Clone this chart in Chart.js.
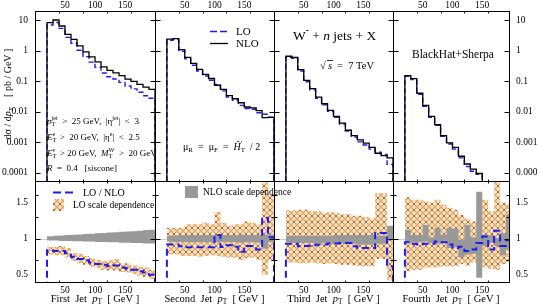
<!DOCTYPE html>
<html>
<head>
<meta charset="utf-8">
<script src="https://cdn.jsdelivr.net/npm/chart.js@4.4.0/dist/chart.umd.min.js"></script>
<style>
html, body { margin: 0; padding: 0; background: #fff; }
#wrap { position: relative; width: 538px; height: 307px; }
#wrap canvas { position: absolute; left: 0; top: 0; }
</style>
</head>
<body>
<div id="wrap">
<canvas id="c1b" width="538" height="307"></canvas>
<canvas id="c2b" width="538" height="307"></canvas>
<canvas id="c3b" width="538" height="307"></canvas>
<canvas id="c4b" width="538" height="307"></canvas>
<canvas id="c1t" width="538" height="307"></canvas>
<canvas id="c2t" width="538" height="307"></canvas>
<canvas id="c3t" width="538" height="307"></canvas>
<canvas id="c4t" width="538" height="307"></canvas>
</div>
<script>
// bin edges (GeV), same for all four jets
const binEdges = [20, 30, 40, 50, 60, 70, 80, 90, 100, 110, 120, 130, 140, 150, 160, 170, 180, 190, 200];

// tick labels
const ptLabels = [50, 100, 150];
const logLabels = [10, 1, 0.1, 0.01, 0.001, 0.0001];
const ratioLabels = [0.5, 1, 1.5];

// dsigma/dpT [pb/GeV]
const nlo1 = [8.5, 10.4, 6.6, 3.5, 2.4, 1.47, 0.93, 0.64, 0.44, 0.30, 0.23, 0.19, 0.155, 0.12, 0.1, 0.08, 0.065, 0.055];
const lo1 = [7.1, 8.6, 5.5, 2.8, 1.8, 1.06, 0.65, 0.43, 0.29, 0.19, 0.143, 0.12, 0.093, 0.071, 0.057, 0.044, 0.034, 0.028];
const nlo2 = [2.45, 2.55, 1.1, 0.62, 0.39, 0.25, 0.17, 0.125, 0.075, 0.055, 0.034, 0.027, 0.02, 0.0145, 0.0135, 0.011, 0.0065, 0.0066];
const lo2 = [2.25, 2.35, 0.98, 0.55, 0.34, 0.22, 0.15, 0.11, 0.079, 0.049, 0.031, 0.024, 0.0164, 0.013, 0.0122, 0.0094, 0.0084, 0.0067];
const nlo3 = [0.67, 0.61, 0.245, 0.109, 0.058, 0.0305, 0.0185, 0.0112, 0.0071, 0.0043, 0.0025, 0.00167, 0.0012, 0.00094, 0.00069, 0.00044, 0.00037, 0.00031];
const lo3 = [0.62, 0.57, 0.219, 0.098, 0.053, 0.028, 0.017, 0.0105, 0.0066, 0.004, 0.00235, 0.0015, 0.00104, 0.00082, 0.0006, 0.00048, 0.0004, 0.00019];
const nlo4 = [0.155, 0.124, 0.041, 0.0163, 0.0071, 0.0038, 0.00166, 0.00096, 0.00069, 0.00035, 0.000195, 0.000133, 0.000095];
const lo4 = [0.147, 0.115, 0.038, 0.0152, 0.0066, 0.00365, 0.00158, 0.00088, 0.0006, 0.00031, 0.000162, 0.000113, 0.000089];

// LO / NLO
const ratio1 = [0.84, 0.83, 0.83, 0.80, 0.75, 0.72, 0.70, 0.67, 0.65, 0.64, 0.62, 0.63, 0.60, 0.59, 0.57, 0.55, 0.53, 0.50];
const ratio2 = [0.92, 0.92, 0.895, 0.88, 0.88, 0.88, 0.88, 0.88, 1.05, 0.885, 0.91, 0.89, 0.82, 0.9, 0.9, 0.85, 1.29, 1.02];
const ratio3 = [0.93, 0.93, 0.895, 0.9, 0.91, 0.92, 0.92, 0.935, 0.935, 0.94, 0.94, 0.895, 0.87, 0.87, 0.87, 1.08, 1.08, 0.62];
const ratio4 = [0.95, 0.93, 0.92, 0.93, 0.93, 0.96, 0.95, 0.92, 0.87, 0.89, 0.83, 0.85, 0.94, 1.03, 0.85, 1.11, 0.9, 0.98];

// LO scale dependence (ratio to NLO)
const loHi1 = [0.89, 0.89, 0.90, 0.87, 0.80, 0.79, 0.76, 0.73, 0.71, 0.69, 0.70, 0.72, 0.66, 0.66, 0.63, 0.61, 0.60, 0.57];
const loLo1 = [0.78, 0.77, 0.77, 0.74, 0.69, 0.66, 0.64, 0.61, 0.59, 0.57, 0.56, 0.56, 0.54, 0.53, 0.51, 0.49, 0.47, 0.44];
const loHi2 = [1.15, 1.15, 1.15, 1.2, 1.2, 1.2, 1.22, 1.2, 1.37, 1.22, 1.18, 1.2, 1.2, 1.24, 1.22, 1.2, 1.78, 1.6];
const loLo2 = [0.78, 0.78, 0.76, 0.76, 0.76, 0.75, 0.76, 0.77, 0.76, 0.75, 0.74, 0.74, 0.7, 0.73, 0.74, 0.71, 0.5, 0.7];
const loHi3 = [1.39, 1.39, 1.4, 1.4, 1.38, 1.38, 1.36, 1.37, 1.36, 1.34, 1.34, 1.32, 1.32, 1.3, 1.28, 1.63, 1.63, 1.1];
const loLo3 = [0.67, 0.67, 0.66, 0.66, 0.67, 0.66, 0.65, 0.66, 0.65, 0.64, 0.64, 0.63, 0.62, 0.62, 0.62, 0.72, 0.72, 0.42];
const loHi4 = [1.57, 1.54, 1.54, 1.52, 1.5, 1.54, 1.47, 1.43, 1.4, 1.33, 1.28, 1.24, 1.63, 1.54, 1.38, 1.79, 1.5, 1.48];
const loLo4 = [0.55, 0.57, 0.57, 0.6, 0.6, 0.6, 0.62, 0.62, 0.62, 0.65, 0.63, 0.67, 0.63, 0.6, 0.58, 0.57, 0.65, 0.68];

// NLO scale dependence (ratio to NLO)
const nloHi1 = [1.035, 1.04, 1.045, 1.05, 1.055, 1.06, 1.065, 1.07, 1.075, 1.08, 1.085, 1.09, 1.095, 1.10, 1.105, 1.11, 1.12, 1.125];
const nloLo1 = [0.975, 0.975, 0.97, 0.97, 0.965, 0.965, 0.96, 0.96, 0.955, 0.955, 0.95, 0.95, 0.945, 0.945, 0.94, 0.94, 0.935, 0.935];
const nloHi2 = [1.04, 1.045, 1.05, 1.05, 1.05, 1.05, 1.05, 1.05, 1.05, 1.05, 1.05, 1.05, 1.06, 1.05, 1.05, 1.055, 1.06, 1.06];
const nloLo2 = [0.96, 0.955, 0.955, 0.95, 0.95, 0.95, 0.95, 0.95, 0.95, 0.955, 0.95, 0.95, 0.945, 0.95, 0.95, 0.945, 0.86, 0.95];
const nloHi3 = [1.04, 1.04, 1.04, 1.04, 1.04, 1.04, 1.04, 1.04, 1.05, 1.05, 1.05, 1.05, 1.05, 1.05, 1.05, 1.04, 1.04, 1.18];
const nloLo3 = [0.95, 0.94, 0.94, 0.94, 0.94, 0.94, 0.94, 0.93, 0.93, 0.93, 0.93, 0.93, 0.92, 0.92, 0.92, 0.93, 0.93, 0.98];
const nloHi4 = [1.12, 1.05, 1.05, 1.19, 1.02, 1.15, 1.06, 1.15, 1.14, 0.99, 1.19, 1.02, 1.65, 1.06, 1.05, 1.01, 1.08, 1.33];
const nloLo4 = [0.94, 0.95, 0.95, 0.96, 0.94, 0.93, 0.95, 0.87, 0.89, 0.74, 0.78, 0.79, 0.46, 0.9, 0.94, 0.9, 0.77, 0.85];

const jetNames = ['First', 'Second', 'Third', 'Fourth'];

// layout
const W = 538, H = 307;
const cols = [[35, 155], [155, 274], [274, 393], [393, 509]];
const xMax = [200, 200, 200, 195];
const topRow = [11, 181], botRow = [181, 282];
const SERIF = '"Liberation Serif", "DejaVu Serif", serif';
const BLUE = '#1c1cf0';

// histogram outline: points on left bin edges, stepped
function histo(vals, floor) {
  const pts = [];
  if (floor !== undefined) pts.push({ x: binEdges[0], y: floor });
  vals.forEach((v, i) => pts.push({ x: binEdges[i], y: v }));
  pts.push({ x: binEdges[vals.length], y: vals[vals.length - 1] });
  if (floor !== undefined) pts.push({ x: binEdges[vals.length], y: floor });
  return pts;
}

// orange cross hatch
function makeHatch(ctx) {
  const c = document.createElement('canvas');
  c.width = 6; c.height = 6;
  const g = c.getContext('2d');
  g.fillStyle = '#fbe6cc';
  g.fillRect(0, 0, 6, 6);
  g.fillStyle = '#eaae6c';
  g.beginPath(); g.arc(3, 3, 1.8, 0, Math.PI * 2); g.fill();
  g.strokeStyle = '#b46a26';
  g.lineWidth = 1;
  g.beginPath();
  g.moveTo(0, 0); g.lineTo(1.6, 1.6); g.moveTo(6, 0); g.lineTo(4.4, 1.6);
  g.moveTo(0, 6); g.lineTo(1.6, 4.4); g.moveTo(6, 6); g.lineTo(4.4, 4.4);
  g.stroke();
  return ctx.createPattern(c, 'repeat');
}
const hatch = makeHatch(document.getElementById('c1b').getContext('2d'));

// text with sub/superscripts
function rich(ctx, x, y, parts, size, measure) {
  let w = 0;
  ctx.textAlign = 'left';
  parts.forEach(p => {
    const s = p.s ? size * 0.7 : size;
    ctx.font = (p.i ? 'italic ' : '') + s + 'px ' + SERIF;
    const dy = p.s === 'sub' ? size * 0.3 : p.s === 'sup' ? -size * 0.38 : 0;
    if (!measure) ctx.fillText(p.t, x + w, y + dy);
    if (!p.k) w += ctx.measureText(p.t).width;
  });
  return w;
}

function text(ctx, t, x, y, size, align) {
  ctx.font = size + 'px ' + SERIF;
  ctx.textAlign = align || 'left';
  ctx.fillText(t, x, y);
}

// extra annotations per panel
const extras = {
  c1t(chart) {
    const ctx = chart.ctx;
    const s = 9, x0 = 47;
    rich(ctx, x0, 122, [{ t: 'p', i: 1 }, { t: 'T', s: 'sub', k: 1 }, { t: 'jet', s: 'sup' }, { t: '  >  25 GeV,  |η' }, { t: 'jet', s: 'sup' }, { t: '|  <  3' }], s);
    rich(ctx, x0, 138, [{ t: 'E', i: 1 }, { t: 'T', s: 'sub', k: 1 }, { t: 'e', s: 'sup' }, { t: '  >  20 GeV,  |η' }, { t: 'e', s: 'sup' }, { t: '|  <  2.5' }], s);
    rich(ctx, x0, 154, [{ t: 'E', i: 1 }, { t: 'T', s: 'sub', k: 1 }, { t: 'ν', s: 'sup' }, { t: '  > 20 GeV,  ' }, { t: 'M', i: 1 }, { t: 'T', s: 'sub', k: 1 }, { t: 'W', s: 'sup' }, { t: '  >  20 GeV' }], s);
    rich(ctx, x0, 169, [{ t: 'R', i: 1 }, { t: '  =  0.4   [siscone]' }], s);
    // y title
    const parts = [{ t: 'dσ / d' }, { t: 'p', i: 1 }, { t: 'T', s: 'sub' }, { t: '    [ pb / GeV ]' }];
    ctx.save();
    ctx.translate(8, 94);
    ctx.rotate(-Math.PI / 2);
    const w = rich(ctx, 0, 0, parts, 10, true);
    rich(ctx, -w / 2, 0, parts, 10);
    ctx.restore();
  },
  c2t(chart) {
    const ctx = chart.ctx;
    ctx.save();
    ctx.lineWidth = 1.5;
    ctx.strokeStyle = BLUE;
    ctx.setLineDash([7, 3]);
    ctx.beginPath(); ctx.moveTo(210, 31.5); ctx.lineTo(228, 31.5); ctx.stroke();
    ctx.setLineDash([]);
    ctx.strokeStyle = '#000';
    ctx.lineWidth = 1.3;
    ctx.beginPath(); ctx.moveTo(210, 43.5); ctx.lineTo(228, 43.5); ctx.stroke();
    ctx.restore();
    text(ctx, 'LO', 236, 32, 11);
    text(ctx, 'NLO', 236, 44, 11);
    rich(ctx, 183, 147, [{ t: 'μ' }, { t: 'R', s: 'sub' }, { t: '  =  μ' }, { t: 'F', s: 'sub' }, { t: '  =  ' }, { t: 'Ĥ', i: 1 }, { t: '′', s: 'sup', k: 1 }, { t: 'T', s: 'sub' }, { t: '  / 2' }], 10);
  },
  c3t(chart) {
    const ctx = chart.ctx;
    rich(ctx, 293, 36, [{ t: 'W' }, { t: '-', s: 'sup' }, { t: ' + ' }, { t: 'n', i: 1 }, { t: ' jets + X' }], 13.5);
    text(ctx, '√', 320, 66, 10.5);
    ctx.font = 'italic 10.5px ' + SERIF;
    ctx.fillText('s', 328, 66);
    ctx.save();
    ctx.strokeStyle = '#000'; ctx.lineWidth = 0.8;
    ctx.beginPath(); ctx.moveTo(327, 60.5); ctx.lineTo(333, 60.5); ctx.stroke();
    ctx.restore();
    text(ctx, '=  7 TeV', 337, 66, 10.5);
  },
  c4t(chart) {
    text(chart.ctx, 'BlackHat+Sherpa', 412, 55, 11.5);
  },
  c1b(chart) {
    const ctx = chart.ctx;
    ctx.save();
    ctx.strokeStyle = BLUE; ctx.lineWidth = 2; ctx.setLineDash([8, 4]);
    ctx.beginPath(); ctx.moveTo(53, 192.5); ctx.lineTo(73, 192.5); ctx.stroke();
    ctx.restore();
    text(ctx, 'LO / NLO', 83, 193, 10);
    ctx.fillStyle = hatch;
    ctx.fillRect(53, 199, 11, 12);
    ctx.fillStyle = '#000';
    text(ctx, 'LO scale dependence', 73, 205.5, 9.5);
  },
  c2b(chart) {
    const ctx = chart.ctx;
    ctx.fillStyle = '#999';
    ctx.fillRect(185, 186, 13, 12);
    ctx.fillStyle = '#000';
    text(ctx, 'NLO scale dependence', 203, 192.5, 9.5);
  }
};

// frame, inward ticks, tick labels
const frame = {
  id: 'frame',
  beforeDatasetsDraw(chart, args, o) {
    if (!o.ratio) return;
    const { ctx, chartArea: a, scales: { y } } = chart;
    const py = Math.round(y.getPixelForValue(1)) + 0.5;
    ctx.save();
    ctx.strokeStyle = '#cfcfcf'; ctx.lineWidth = 1;
    ctx.beginPath(); ctx.moveTo(a.left, py); ctx.lineTo(a.right, py); ctx.stroke();
    ctx.restore();
  },
  afterDatasetsDraw(chart, args, o) {
    const { ctx, chartArea: a, scales: { x, y } } = chart;
    const L = a.left + 0.5, R = a.right + 0.5, T = a.top + 0.5, B = a.bottom + 0.5;
    ctx.save();
    ctx.strokeStyle = '#000'; ctx.fillStyle = '#000'; ctx.lineWidth = 1;
    ctx.strokeRect(L, T, R - L, B - T);
    ctx.beginPath();
    x.ticks.forEach(t => {
      const v = Math.round(t.value);
      if (Math.abs(v - t.value) > 1e-6 || v % 10) return;
      const px = Math.round(x.getPixelForValue(v)) + 0.5;
      if (px < L + 1 || px > R - 1) return;
      const n = v % 50 === 0 ? 4 : 2;
      ctx.moveTo(px, T); ctx.lineTo(px, T + n);
      ctx.moveTo(px, B); ctx.lineTo(px, B - n);
    });
    y.ticks.forEach(t => {
      const v = t.value;
      let major;
      if (o.ratio) {
        major = Math.abs(v * 2 - Math.round(v * 2)) < 1e-6;
      } else {
        const e = Math.floor(Math.log10(v) + 1e-9);
        const m = v / Math.pow(10, e);
        if (Math.abs(m - Math.round(m)) > 1e-6) return;
        major = Math.abs(m - 1) < 1e-6;
      }
      const py = Math.round(y.getPixelForValue(v)) + 0.5;
      if (py < T + 1 || py > B - 1) return;
      const n = major ? 5 : 3;
      ctx.moveTo(L, py); ctx.lineTo(L + n, py);
      ctx.moveTo(R, py); ctx.lineTo(R - n, py);
    });
    ctx.stroke();

    ctx.font = '9.5px ' + SERIF;
    ctx.textBaseline = 'middle';
    ctx.textAlign = 'center';
    ptLabels.forEach(v => {
      const px = x.getPixelForValue(v);
      if (o.top) ctx.fillText(String(v), px, a.top - 6);
      if (o.bottom) ctx.fillText(String(v), px, a.bottom + 8);
    });
    const yl = o.ratio ? ratioLabels : logLabels;
    if (o.left) {
      ctx.textAlign = 'right';
      yl.forEach(v => ctx.fillText(String(v), a.left - 7, y.getPixelForValue(v)));
    }
    if (o.right) {
      ctx.textAlign = 'left';
      yl.forEach(v => ctx.fillText(String(v), a.right + 7, y.getPixelForValue(v)));
    }
    if (o.jet !== undefined) {
      const parts = [{ t: jetNames[o.jet] + '  Jet  ' }, { t: 'p', i: 1 }, { t: 'T', s: 'sub' }, { t: '  [ GeV ]' }];
      const w = rich(ctx, 0, 0, parts, 10.5, true);
      rich(ctx, (a.left + a.right) / 2 - w / 2, 299, parts, 10.5);
    }
    const f = extras[chart.canvas.id];
    if (f) {
      ctx.textBaseline = 'middle';
      ctx.textAlign = 'left';
      f(chart);
    }
    ctx.restore();
  }
};

function makeChart(id, col, row, yScale, datasets, opts) {
  return new Chart(document.getElementById(id), {
    type: 'line',
    data: { datasets },
    options: {
      responsive: false,
      animation: false,
      devicePixelRatio: 1,
      layout: { padding: { left: cols[col][0], right: W - cols[col][1], top: row[0], bottom: H - row[1] } },
      plugins: { legend: { display: false }, tooltip: { enabled: false }, frame: opts },
      elements: { point: { radius: 0 }, line: { tension: 0 } },
      scales: {
        x: { type: 'linear', min: 0, max: xMax[col], display: false, ticks: { stepSize: 10 } },
        y: yScale
      }
    },
    plugins: [frame]
  });
}

const logY = () => ({ type: 'logarithmic', min: 5.4e-5, max: 20.5, display: false });
const ratioY = () => ({ type: 'linear', min: 0.4, max: 1.8, display: false, ticks: { stepSize: 0.1 } });

function topSets(nlo, lo) {
  return [
    { data: histo(nlo, 1e-9), stepped: true, borderColor: '#000', borderWidth: 1.3, fill: false, order: 0 },
    { data: histo(lo, 1e-9), stepped: true, borderColor: BLUE, borderWidth: 1.4, borderDash: [5, 3], fill: false, order: 1 }
  ];
}

function bottomSets(ratio, loHi, loLo, nloHi, nloLo) {
  const none = 'rgba(0,0,0,0)';
  return [
    { data: histo(loHi), stepped: true, borderColor: none, borderWidth: 0, backgroundColor: hatch, fill: '+1', order: 3 },
    { data: histo(loLo), stepped: true, borderColor: none, borderWidth: 0, fill: false, order: 3 },
    { data: histo(nloHi), stepped: true, borderColor: none, borderWidth: 0, backgroundColor: '#999999', fill: '+1', order: 2 },
    { data: histo(nloLo), stepped: true, borderColor: none, borderWidth: 0, fill: false, order: 2 },
    { data: histo(ratio, 0), stepped: true, borderColor: BLUE, borderWidth: 2, borderDash: [7, 4], fill: false, order: 0 }
  ];
}

makeChart('c1t', 0, topRow, logY(), topSets(nlo1, lo1), { top: true, left: true });
makeChart('c2t', 1, topRow, logY(), topSets(nlo2, lo2), { top: true });
makeChart('c3t', 2, topRow, logY(), topSets(nlo3, lo3), { top: true });
makeChart('c4t', 3, topRow, logY(), topSets(nlo4, lo4), { top: true, right: true });

makeChart('c1b', 0, botRow, ratioY(), bottomSets(ratio1, loHi1, loLo1, nloHi1, nloLo1), { ratio: true, bottom: true, left: true, jet: 0 });
makeChart('c2b', 1, botRow, ratioY(), bottomSets(ratio2, loHi2, loLo2, nloHi2, nloLo2), { ratio: true, bottom: true, jet: 1 });
makeChart('c3b', 2, botRow, ratioY(), bottomSets(ratio3, loHi3, loLo3, nloHi3, nloLo3), { ratio: true, bottom: true, jet: 2 });
makeChart('c4b', 3, botRow, ratioY(), bottomSets(ratio4, loHi4, loLo4, nloHi4, nloLo4), { ratio: true, bottom: true, right: true, jet: 3 });
</script>
</body>
</html>
